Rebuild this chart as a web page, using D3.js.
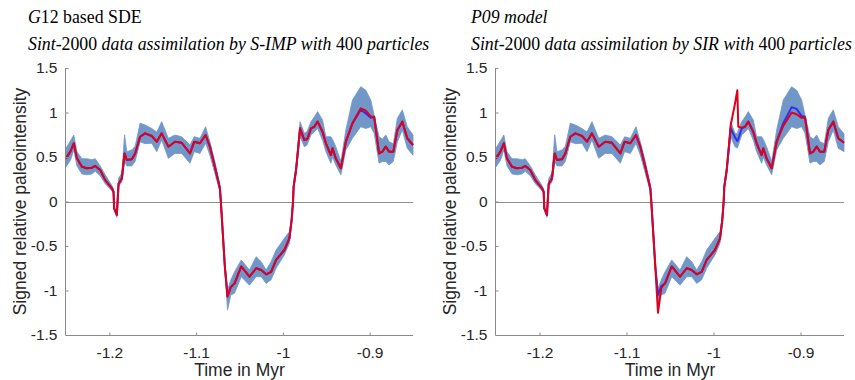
<!DOCTYPE html>
<html><head><meta charset="utf-8">
<script src="https://cdn.jsdelivr.net/npm/d3@7"></script>
<style>
html,body{margin:0;padding:0;background:#fff;}
svg{display:block;}
</style></head>
<body>
<svg id="chart" width="855" height="380"></svg>
<script>
// ---------------- DATA ----------------
const time = [-1.2500,-1.2450,-1.2410,-1.2374,-1.2316,-1.2259,-1.2200,-1.2163,-1.2106,-1.2048,
-1.1971,-1.1952,-1.1945,-1.1914,-1.1894,-1.1856,-1.1825,-1.1799,-1.1741,-1.1703,
-1.1646,-1.1588,-1.1511,-1.1454,-1.1397,-1.1320,-1.1244,-1.1167,-1.1071,-1.1021,
-1.0956,-1.0891,-1.0841,-1.0784,-1.0726,-1.0715,-1.0669,-1.0638,-1.0600,-1.0557,
-1.0480,-1.0385,-1.0308,-1.0250,-1.0193,-1.0136,-1.0078,-0.9983,-0.9925,-0.9899,
-0.9883,-0.9876,-0.9848,-0.9802,-0.9753,-0.9726,-0.9715,-0.9676,-0.9638,-0.9600,
-0.9543,-0.9504,-0.9447,-0.9428,-0.9390,-0.9331,-0.9274,-0.9198,-0.9102,-0.9044,
-0.8987,-0.8948,-0.8891,-0.8853,-0.8814,-0.8776,-0.8727,-0.8680,-0.8623,-0.8566,
-0.8500];

// Left panel (G12 / S-IMP)
const redA = [0.485,0.56,0.654,0.485,0.39,0.373,0.38,0.40,0.354,0.24,
0.148,0.11,-0.077,-0.15,0.20,0.26,0.54,0.466,0.474,0.54,
0.728,0.766,0.736,0.672,0.766,0.616,0.672,0.66,0.54,0.672,
0.654,0.747,0.616,0.39,0.148,0.0,-0.73,-1.07,-0.96,-0.92,
-0.73,-0.845,-0.75,-0.77,-0.818,-0.79,-0.657,-0.545,-0.414,-0.208,
0.0,0.166,0.354,0.822,0.69,0.70,0.71,0.822,0.84,0.897,
0.784,0.654,0.522,0.598,0.485,0.373,0.672,0.878,1.047,1.02,
0.953,0.953,0.54,0.56,0.616,0.56,0.56,0.803,0.897,0.71,
0.635];
const blueA = [0.485,0.56,0.654,0.485,0.39,0.373,0.38,0.40,0.354,0.24,
0.148,0.11,-0.077,-0.15,0.20,0.26,0.54,0.466,0.474,0.54,
0.728,0.766,0.736,0.672,0.766,0.616,0.672,0.66,0.54,0.672,
0.654,0.747,0.616,0.39,0.148,0.0,-0.73,-1.06,-0.96,-0.92,
-0.73,-0.845,-0.75,-0.77,-0.818,-0.79,-0.657,-0.545,-0.414,-0.208,
0.0,0.166,0.354,0.822,0.69,0.70,0.71,0.822,0.84,0.897,
0.784,0.654,0.522,0.598,0.485,0.373,0.672,0.878,1.03,0.99,
0.94,0.953,0.54,0.56,0.616,0.56,0.56,0.803,0.897,0.71,
0.635];
const lowA = [0.39,0.46,0.58,0.40,0.31,0.30,0.31,0.34,0.29,0.20,
0.12,0.09,-0.09,-0.18,0.17,0.22,0.45,0.40,0.40,0.45,
0.67,0.65,0.654,0.56,0.69,0.485,0.54,0.54,0.43,0.56,
0.54,0.654,0.52,0.317,0.11,-0.03,-0.76,-1.22,-1.05,-1.03,
-0.845,-0.94,-0.845,-0.845,-0.92,-0.88,-0.75,-0.60,-0.47,-0.24,
-0.02,0.14,0.32,0.728,0.616,0.63,0.65,0.747,0.78,0.822,
0.69,0.56,0.43,0.50,0.41,0.30,0.58,0.71,0.84,0.82,
0.84,0.766,0.43,0.45,0.45,0.41,0.45,0.672,0.803,0.598,
0.52];
const highA = [0.60,0.68,0.747,0.56,0.48,0.48,0.47,0.48,0.40,0.30,
0.18,0.14,-0.06,-0.13,0.26,0.32,0.75,0.56,0.58,0.62,
0.88,0.86,0.82,0.78,0.897,0.71,0.747,0.728,0.635,0.728,
0.71,0.84,0.67,0.45,0.19,0.03,-0.70,-1.0,-0.88,-0.79,
-0.657,-0.77,-0.62,-0.676,-0.77,-0.676,-0.545,-0.414,-0.34,-0.18,
0.02,0.19,0.39,0.897,0.766,0.78,0.80,0.897,0.95,1.01,
0.916,0.728,0.728,0.70,0.616,0.45,0.803,1.14,1.29,1.25,
1.14,0.97,0.728,0.70,0.747,0.67,0.65,0.935,1.03,0.84,
0.747];

// Right panel (P09 / SIR)
const redB = [0.485,0.56,0.654,0.485,0.39,0.373,0.38,0.40,0.354,0.24,
0.148,0.11,-0.077,-0.15,0.20,0.26,0.54,0.466,0.474,0.54,
0.728,0.766,0.736,0.672,0.766,0.616,0.672,0.66,0.54,0.672,
0.654,0.747,0.616,0.39,0.148,0.0,-0.73,-1.25,-0.97,-0.92,
-0.73,-0.845,-0.75,-0.77,-0.818,-0.79,-0.657,-0.545,-0.414,-0.208,
0.0,0.166,0.354,0.86,1.10,1.25,0.84,0.83,0.84,0.897,
0.784,0.654,0.522,0.598,0.485,0.373,0.672,0.85,1.00,0.98,
0.94,0.94,0.54,0.56,0.616,0.56,0.56,0.803,0.897,0.71,
0.66];
const blueB = [0.485,0.56,0.654,0.485,0.39,0.373,0.38,0.40,0.354,0.24,
0.148,0.11,-0.077,-0.15,0.20,0.26,0.54,0.466,0.474,0.54,
0.728,0.766,0.736,0.672,0.766,0.616,0.672,0.66,0.54,0.672,
0.654,0.747,0.616,0.39,0.148,0.0,-0.73,-1.05,-0.95,-0.92,
-0.73,-0.845,-0.75,-0.77,-0.818,-0.79,-0.657,-0.545,-0.414,-0.208,
0.0,0.166,0.354,0.82,0.72,0.68,0.70,0.82,0.84,0.897,
0.784,0.654,0.522,0.598,0.485,0.373,0.672,0.88,1.06,1.04,
0.96,0.953,0.54,0.56,0.616,0.56,0.56,0.803,0.897,0.71,
0.66];
const lowB = [0.39,0.46,0.58,0.40,0.31,0.30,0.31,0.34,0.29,0.20,
0.12,0.09,-0.09,-0.18,0.17,0.22,0.45,0.40,0.40,0.45,
0.67,0.65,0.654,0.56,0.69,0.485,0.54,0.54,0.43,0.56,
0.54,0.654,0.52,0.317,0.11,-0.03,-0.76,-1.12,-1.05,-1.03,
-0.845,-0.94,-0.845,-0.845,-0.92,-0.88,-0.75,-0.60,-0.47,-0.24,
-0.02,0.14,0.32,0.728,0.616,0.60,0.63,0.747,0.78,0.822,
0.69,0.56,0.43,0.50,0.41,0.30,0.58,0.71,0.84,0.82,
0.84,0.766,0.43,0.45,0.45,0.41,0.45,0.672,0.803,0.598,
0.56];
const highB = [0.60,0.68,0.747,0.56,0.48,0.48,0.47,0.48,0.40,0.30,
0.18,0.14,-0.06,-0.13,0.26,0.32,0.75,0.56,0.58,0.62,
0.88,0.86,0.82,0.78,0.897,0.71,0.747,0.728,0.635,0.728,
0.71,0.84,0.67,0.45,0.19,0.03,-0.70,-0.98,-0.88,-0.79,
-0.657,-0.77,-0.62,-0.676,-0.77,-0.676,-0.545,-0.414,-0.34,-0.18,
0.02,0.19,0.39,0.897,0.766,0.76,0.80,0.897,0.95,1.01,
0.916,0.728,0.728,0.70,0.616,0.45,0.803,1.14,1.29,1.25,
1.14,0.97,0.728,0.70,0.747,0.67,0.65,0.935,1.03,0.84,
0.76];

const xTicks = [-1.2, -1.1, -1.0, -0.9];
const yTicks = [-1.5, -1, -0.5, 0, 0.5, 1, 1.5];
const xDomain = [-1.25, -0.85];
const yDomain = [-1.5, 1.5];

const titlesA = [
  [["G", true], ["12 based SDE", false]],
  [["Sint", true], ["-2000", false], [" data assimilation by S-IMP with ", true], ["400", false], [" particles", true]]
];
const titlesB = [
  [["P09 model", true]],
  [["Sint", true], ["-2000", false], [" data assimilation by SIR with ", true], ["400", false], [" particles", true]]
];
const yLabel = "Signed relative paleointensity";
const xLabel = "Time in Myr";

// ---------------- DRAW ----------------
const svg = d3.select("#chart");
const AX = "#8a8a8a";
const TXT = "#262626";
const BAND = "#7097c8";
const RED = "#e0001a";
const BLUE = "#3030f0";

const panels = [
  {x0: 66, x1: 413, titleX: 28, red: redA, blue: blueA, low: lowA, high: highA, titles: titlesA},
  {x0: 496, x1: 844, titleX: 471, red: redB, blue: blueB, low: lowB, high: highB, titles: titlesB}
];
const yTop = 68, yBot = 335;

panels.forEach(p => {
  const x = d3.scaleLinear().domain(xDomain).range([p.x0, p.x1]);
  const y = d3.scaleLinear().domain(yDomain).range([yBot, yTop]);
  const g = svg.append("g");

  // titles
  p.titles.forEach((line, i) => {
    const t = g.append("text")
      .attr("x", p.titleX).attr("y", 23 + i * 27)
      .attr("font-family", "'Liberation Serif','Times New Roman',serif")
      .attr("font-size", 17.8).attr("fill", "#000");
    line.forEach(([s, it]) => {
      t.append("tspan").attr("font-style", it ? "italic" : "normal").text(s);
    });
  });

  // zero line
  g.append("line")
    .attr("x1", x(xDomain[0])).attr("x2", x(xDomain[1]))
    .attr("y1", Math.round(y(0)) + 0.5).attr("y2", Math.round(y(0)) + 0.5)
    .attr("stroke", "#8f8f8f").attr("stroke-width", 1);

  const idx = d3.range(time.length);
  const area = d3.area()
    .x(i => x(time[i]))
    .y0(i => y(p.low[i]))
    .y1(i => y(p.high[i]));
  g.append("path").datum(idx).attr("d", area).attr("fill", BAND).attr("stroke", BAND).attr("stroke-width", 0.8);

  const lineBlue = d3.line().x(i => x(time[i])).y(i => y(p.blue[i]));
  g.append("path").datum(idx).attr("d", lineBlue).attr("fill", "none")
    .attr("stroke", BLUE).attr("stroke-width", 2).attr("stroke-linejoin", "round");

  const lineRed = d3.line().x(i => x(time[i])).y(i => y(p.red[i]));
  g.append("path").datum(idx).attr("d", lineRed).attr("fill", "none")
    .attr("stroke", RED).attr("stroke-width", 2).attr("stroke-linejoin", "round");

  // axes
  const yAxis = d3.axisLeft(y).tickValues(yTicks).tickSize(-3).tickPadding(8)
    .tickFormat(d => String(d));
  const ya = g.append("g").attr("transform", `translate(${p.x0 - 0.5},0)`).call(yAxis);
  const xAxis = d3.axisBottom(x).tickValues(xTicks).tickSize(-3).tickPadding(11)
    .tickFormat(d => String(d));
  const xa = g.append("g").attr("transform", `translate(0,${yBot + 0.5})`).call(xAxis);
  [ya, xa].forEach(a => {
    a.select(".domain").attr("stroke", AX);
    a.selectAll(".tick line").attr("stroke", AX);
    a.selectAll(".tick text").attr("fill", TXT)
      .attr("font-family", "'Liberation Sans',Arial,Helvetica,sans-serif")
      .attr("font-size", 15.5);
  });
  ya.select(".domain").attr("d", `M0,${yBot}V${yTop}`);
  xa.select(".domain").attr("d", `M${p.x0 - 0.5},0H${p.x1}`);

  // axis labels
  g.append("text")
    .attr("transform", `translate(${p.x0 - 40},${(yTop + yBot) / 2}) rotate(-90)`)
    .attr("text-anchor", "middle")
    .attr("font-family", "'Liberation Sans',Arial,Helvetica,sans-serif")
    .attr("font-size", 17.5).attr("fill", TXT).text(yLabel);
  g.append("text")
    .attr("x", (p.x0 + p.x1) / 2).attr("y", 376)
    .attr("text-anchor", "middle")
    .attr("font-family", "'Liberation Sans',Arial,Helvetica,sans-serif")
    .attr("font-size", 17.5).attr("fill", TXT).text(xLabel);
});
</script>
</body></html>
